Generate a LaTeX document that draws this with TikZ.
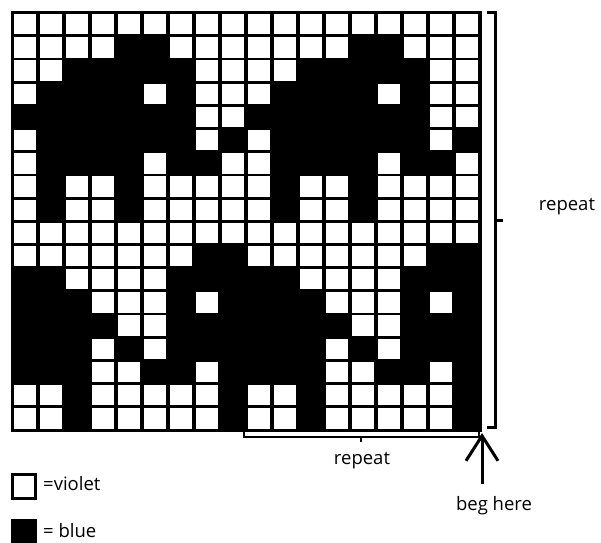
\documentclass[tikz,border=0pt]{standalone}
\usepackage{fontspec}
\setmainfont{Open Sans}
\usetikzlibrary{arrows.meta,positioning}
\definecolor{inkx}{HTML}{000000}
\definecolor{paperx}{HTML}{FFFFFF}
\tikzset{
  lbl/.style={font=\fontsize{18.5}{20}\selectfont,inner sep=0pt,inkx},
  brk/.style={line width=3pt,inkx},
  ar/.style={-{Straight Barb[length=25pt,width=32pt]},line width=3pt,inkx},
  cellw/.style={fill=paperx},
  keyw/.style={draw=inkx,line width=3.5pt,fill=paperx}
}

\begin{document}
\begin{tikzpicture}[x=1pt,y=-1pt]
\useasboundingbox (0,0) rectangle (601,542);
\fill[inkx] (10.5,11) rectangle (481.5,431.5);
\foreach \row [count=\j] in {
  {0,0,0,0,0,0,0,0,0},{0,0,0,0,1,1,0,0,0},{0,0,1,1,1,1,1,0,0},
  {0,1,1,1,1,0,1,0,0},{1,1,1,1,1,1,1,0,0},{0,1,1,1,1,1,1,0,1},
  {0,1,1,1,1,0,1,1,0},{0,1,0,0,1,0,0,0,0},{0,1,0,0,1,0,0,0,0},
  {0,0,0,0,0,0,0,0,0},{0,0,0,0,0,0,0,1,1},{1,1,0,0,0,0,1,1,1},
  {1,1,1,0,0,0,1,0,1},{1,1,1,1,0,0,1,1,1},{1,1,1,0,1,0,1,1,1},
  {1,1,1,0,0,1,1,0,1},{0,0,1,0,0,0,0,0,1},{0,0,1,0,0,0,0,0,1}}{
  \foreach \v [count=\i] in \row {
    \ifnum\v=0
      \foreach \k in {0,9}
        \fill[cellw] ({12+26*(\i+\k-1)+2},{12.7+23.18*(\j-1)+1.4})
          rectangle ({12+26*(\i+\k)-2},{12.7+23.18*\j-1.4});
    \fi
  }
}
\draw[brk] (487,12) -- (495,12) -- (495,427) -- (487,427);
\draw[brk] (495,220.7) -- (503,220.7);
\draw[brk,line width=2.6pt] (244,432) -- (244,437) -- (479,437) -- (479,432);
\draw[brk,line width=2.6pt] (361,437) -- (361,442);
\node[lbl] (rptR) at (567,206.5) {repeat};
\node[lbl] (rptB) at (362,461) {repeat};
\node[lbl] (beg) at (494,505.5) {beg here};
\coordinate (tip) at (482,433);
\draw[ar,shorten <=12pt] (tip |- beg.north) -- (tip);
\draw[keyw] (12.5,474.5) rectangle (35.5,498.5);
\fill[inkx] (11,519) rectangle (37,545);
\node[lbl,anchor=west] (vio) at (43,484) {=violet};
\node[lbl,anchor=west] (blu) at (43,530.5) {= blue};
\end{tikzpicture}
\end{document}
